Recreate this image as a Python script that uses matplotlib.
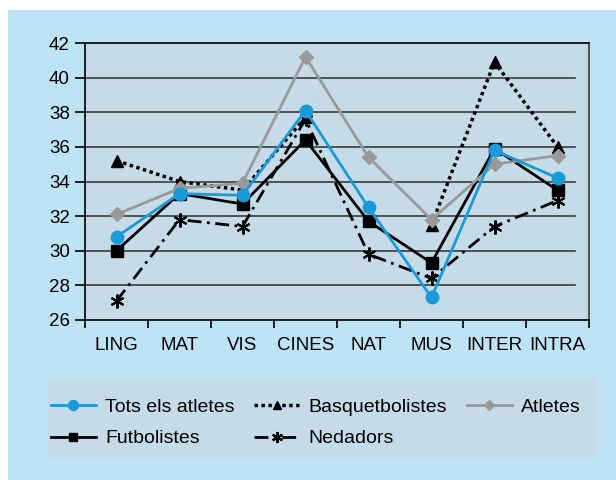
import matplotlib.pyplot as plt
import numpy as np
from matplotlib.patches import Rectangle

categories = ['LING', 'MAT', 'VIS', 'CINES', 'NAT', 'MUS', 'INTER', 'INTRA']
tots = [30.8, 33.3, 33.2, 38.1, 32.5, 27.3, 35.8, 34.2]
basquet = [35.2, 34.0, 33.5, 37.7, np.nan, 31.5, 40.9, 36.0]
atletes = [32.1, 33.6, 33.9, 41.2, 35.4, 31.8, 35.0, 35.5]
futbol = [30.0, 33.3, 32.7, 36.4, 31.7, 29.3, 35.9, 33.5]
nedadors = [27.1, 31.8, 31.4, 37.6, 29.8, 28.4, 31.4, 32.9]
yticks = [26, 28, 30, 32, 34, 36, 38, 40, 42]

plt.rcParams['font.family'] = ['Liberation Sans', 'DejaVu Sans']

fig = plt.figure(figsize=(6.16, 4.8), dpi=100)
fig.patch.set_facecolor('white')
fig.add_artist(Rectangle((8 / 616, 0), 1, 470 / 480, transform=fig.transFigure,
                         facecolor='#bee3f5', edgecolor='none', zorder=0))

ax = fig.add_axes([85 / 616, 1 - 320 / 480, 504 / 616, 277 / 480])
ax.set_facecolor('#c5dce8')

x = np.arange(len(categories))

for y in yticks[1:-1]:
    ax.axhline(y, xmin=0, xmax=0.973, color='#3a3a3a', lw=1.2, zorder=1)

ax.plot(x, basquet, color='black', ls=(0, (1, 1)), lw=2.5, marker='^',
        markersize=8, label='Basquetbolistes', zorder=3)
ax.plot(x, nedadors, color='black', ls=(0, (5, 2, 1, 2)), lw=2, marker=(6, 2, 0),
        markersize=10, markeredgewidth=1.5, label='Nedadors', zorder=4)
ax.plot(x, futbol, color='black', lw=2, marker='s', markersize=8,
        label='Futbolistes', zorder=5)
ax.plot(x, atletes, color='#999999', lw=2, marker='D', markersize=7,
        label='Atletes', zorder=6)
ax.plot(x, tots, color='#1a9ad6', lw=2, marker='o', markersize=9,
        label='Tots els atletes', zorder=7)

ax.set_xlim(-0.5, 7.5)
ax.set_ylim(26, 42)
ax.set_yticks(yticks)
ax.set_xticks(x)
ax.set_xticklabels(categories)
ax.set_xticks(np.arange(-0.5, 8, 1), minor=True)
ax.tick_params(axis='x', which='major', length=0, labelsize=13.5, pad=12)
ax.tick_params(axis='x', which='minor', length=6, width=1.2, direction='out')
ax.tick_params(axis='y', length=7, width=1.2, labelsize=13.5, pad=4)

for s in ['left', 'bottom', 'top']:
    ax.spines[s].set_color('black')
    ax.spines[s].set_linewidth(1.2)
ax.spines['right'].set_color('#555555')
ax.spines['right'].set_linewidth(1.5)

handles, labels = ax.get_legend_handles_labels()
order = ['Tots els atletes', 'Futbolistes', 'Basquetbolistes', 'Nedadors', 'Atletes']
h = [handles[labels.index(o)] for o in order]
fig.add_artist(Rectangle((48 / 616, 1 - 458 / 480), 549 / 616, 80 / 480,
                         transform=fig.transFigure, facecolor='#c5dce8',
                         edgecolor='none', zorder=1))
leg = fig.legend(h, order, ncol=3, loc='center', bbox_to_anchor=(316 / 616, 1 - 423 / 480),
                 frameon=False, fontsize=14, handlelength=2.3, columnspacing=1.0,
                 handletextpad=0.5, labelspacing=0.7, markerscale=0.8)

plt.savefig('out.png', dpi=100, facecolor=fig.get_facecolor())
